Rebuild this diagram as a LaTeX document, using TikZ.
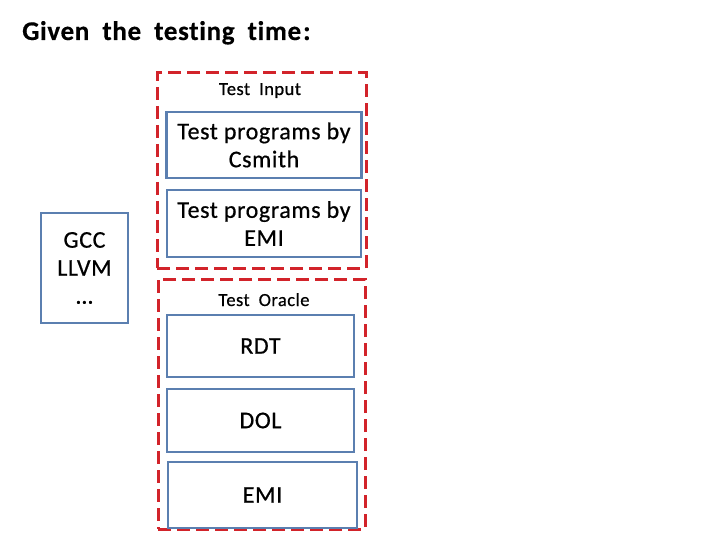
\documentclass[tikz,border=0pt]{standalone}
\usepackage{fontspec}
\setmainfont{Carlito}[Ligatures=NoCommon, LetterSpace=2.5, FakeBold=0.6, BoldFeatures={FakeBold=0.4}]
\usetikzlibrary{calc}
\definecolor{gtRed}{HTML}{D2232A}
\definecolor{gtBlue}{HTML}{5B7FB0}
\definecolor{gtInk}{HTML}{000000}

\begin{document}
\begin{tikzpicture}[
    x=1pt, y=-1pt,
    gt group/.style={draw=gtRed, line width=3pt, dash pattern=on 13pt off 6pt, inner sep=0pt},
    gt box/.style={draw=gtBlue, line width=2.8pt, inner sep=0pt, align=center, text=gtInk, font=\fontsize{24}{28}\selectfont},
    gt label/.style={text=gtInk, font=\fontsize{18.5}{22}\selectfont, inner sep=0pt, anchor=base},
    gt title/.style={text=gtInk, font=\fontsize{27}{31}\selectfont\bfseries, inner sep=0pt, anchor=base west},
]
  \useasboundingbox (0,0) rectangle (720,540);

  % Posições das caixas.
  \coordinate (g-input) at (261.5,170.5);
  \coordinate (g-oracle) at (261.5,404);
  \coordinate (b-compilers) at (84.5,268);
  \coordinate (b-csmith) at (264,145);
  \coordinate (b-emiin) at (264,223.5);
  \coordinate (b-rdt) at (260.5,346);
  \coordinate (b-dol) at (260.5,420.5);
  \coordinate (b-emi) at (262.5,495);

  % Título.
  \node[gt title] (title) at (22,40) {Given\hspace{13pt}the\hspace{13pt}testing\hspace{13pt}time\hspace{2pt}:};

  % Grupos.
  \node[gt group, minimum width=209pt, minimum height=195pt] (input) at (g-input) {};
  \node[gt group, minimum width=207pt, minimum height=250pt] (oracle) at (g-oracle) {};
  \node[gt label] (input-name) at (260,95) {Test\hspace{9pt}Input};
  \node[gt label] (oracle-name) at (264,306) {Test\hspace{9pt}Oracle};

  % Caixas.
  \node[gt box, minimum width=87pt, minimum height=110pt] (compilers) at (b-compilers) {GCC\\LLVM\\…};
  \node[gt box, minimum width=195pt, minimum height=66pt] (csmith) at (b-csmith) {Test programs by\\Csmith};
  \node[gt box, minimum width=194pt, minimum height=67pt] (emi-input) at (b-emiin) {Test programs by\\EMI};
  \node[gt box, minimum width=187pt, minimum height=62pt] (rdt) at (b-rdt) {RDT};
  \node[gt box, minimum width=187pt, minimum height=63pt] (dol) at (b-dol) {DOL};
  \node[gt box, minimum width=189pt, minimum height=66pt] (emi) at (b-emi) {EMI};
\end{tikzpicture}
\end{document}
